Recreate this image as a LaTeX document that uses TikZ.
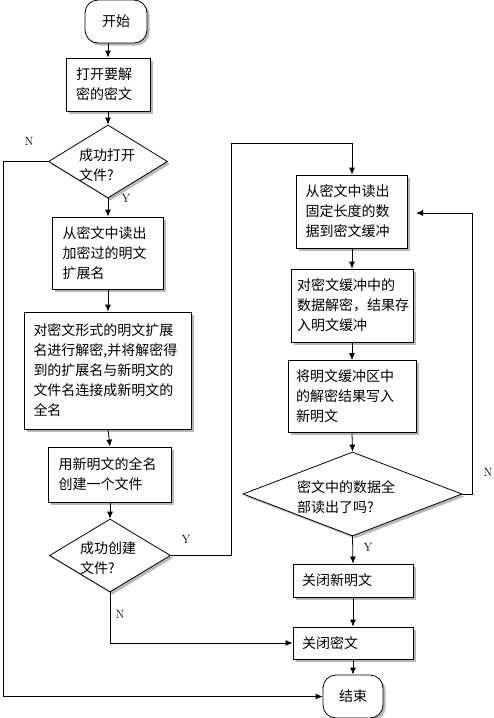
\documentclass[tikz,border=0pt]{standalone}
\usepackage{fontspec}
\newfontfamily\cjk{Noto Sans CJK SC}
\usetikzlibrary{shapes.geometric,shadows,arrows.meta,calc}
\begin{document}
\begin{tikzpicture}[x=1pt,y=-1pt,
  shade/.style={drop shadow={shadow xshift=2.5pt,shadow yshift=-2.5pt,fill=black!40,opacity=0.7}},
  box/.style={draw, fill=white, line width=0.8pt, shade, font=\cjk\fontsize{14}{20}\selectfont, align=left, inner ysep=2pt},
  term/.style={draw, fill=white, line width=0.8pt, shade, rounded corners=13pt, font=\cjk\fontsize{14}{20}\selectfont, minimum width=62pt, minimum height=43pt},
  dia/.style={draw, fill=white, line width=0.8pt, shade, diamond, inner sep=0pt},
  dtext/.style={font=\cjk\fontsize{14}{20}\selectfont, align=left, anchor=west, inner sep=0pt},
  arr/.style={line width=0.8pt, -{Latex[length=7pt,width=6pt]}},
  lbl/.style={font=\fontsize{12}{12}\selectfont, inner sep=0pt}
]
\useasboundingbox (0,0) rectangle (494,718);
\fill[white] (0,0) rectangle (494,718);

% left column
\node[term] (start) at (116,21.5) {开始};
\node[box, minimum width=84pt, minimum height=53pt, text width=64pt, inner xsep=10pt] (b1) at (108,84.5) {打开要解\\密的密文};
\node[dia, minimum width=119pt, minimum height=73pt] (d1) at (108,161.5) {};
\node[dtext] (d1t) at (79,165) {成功打开\\文件?};
\node[box, minimum width=111pt, minimum height=72pt, text width=91pt, inner xsep=10pt] (b2) at (108,253) {从密文中读出\\加密过的明文\\扩展名};
\node[box, minimum width=167pt, minimum height=117pt, text width=149pt, inner xsep=9pt] (b3) at (108,370.5) {对密文形式的明文扩展\\名进行解密,并将解密得\\到的扩展名与新明文的\\文件名连接成新明文的\\全名};
\node[box, minimum width=123pt, minimum height=55pt, text width=103pt, inner xsep=10pt] (b4) at (110,474.5) {用新明文的全名\\创建一个文件};
\node[dia, minimum width=121pt, minimum height=73pt] (d2) at (110,555.5) {};
\node[dtext] (d2t) at (80,558) {成功创建\\文件?};

% right column
\node[box, minimum width=111pt, minimum height=73pt, text width=93pt, inner xsep=9pt] (b5) at (352,211.5) {从密文中读出\\固定长度的数\\据到密文缓冲};
\node[box, minimum width=122pt, minimum height=73pt, text width=110pt, inner xsep=6pt] (b6) at (352,305.5) {对密文缓冲中的\\数据解密，结果存\\入明文缓冲};
\node[box, minimum width=128pt, minimum height=72pt, text width=112pt, inner xsep=8pt] (b7) at (352,396.5) {将明文缓冲区中\\的解密结果写入\\新明文};
\node[dia, minimum width=219pt, minimum height=84pt] (d3) at (352.5,494) {};
\node[dtext] (d3t) at (297,497) {密文中的数据全\\部读出了吗?};
\node[box, minimum width=120pt, minimum height=33pt, text width=102pt, inner xsep=9pt] (b8) at (353,580.5) {关闭新明文};
\node[box, minimum width=120pt, minimum height=32pt, text width=102pt, inner xsep=9pt] (b9) at (353,643) {关闭密文};
\node[term, minimum width=60pt] (end) at (353,696.5) {结束};

% rails
\coordinate (lftrail) at (3,0);
\coordinate (midrail) at (231,143);
\coordinate (rrail) at (472,213);
\coordinate (rtip) at (416,213);

% connectors
\draw[arr] (start.south -| b1.north) -- (b1.north);
\draw[arr] (b1.south) -- (d1.north);
\draw[arr] (d1.south) -- (b2.north);
\draw[arr] (b2.south) -- (b3.north);
\draw[arr] (b3.south) -- (b4.north);
\draw[arr] (b4.south) -- (d2.north);
\draw[arr] (d1.west) -- (d1.west -| lftrail) |- (end.west);
\draw[arr] (d2.east) -| (midrail) -| (b5.north);
\draw[arr] (d2.south) |- (b9.west);
\draw[arr] (b5.south) -- (b6.north);
\draw[arr] (b6.south) -- (b7.north);
\draw[arr] (b7.south) -- (d3.north);
\draw[arr] (d3.south) -- (b8.north);
\draw[arr] (b8.south) -- (b9.north);
\draw[arr] (b9.south) -- (end.north);
\draw[arr] (d3.east) -| (rrail) -- (rtip);

% labels
\node[lbl] (ln1) at (29,141) {N};
\node[lbl] (ly1) at (126,198) {Y};
\node[lbl] (ly2) at (186,539) {Y};
\node[lbl] (ln2) at (120,614) {N};
\node[lbl] (ln3) at (488,472) {N};
\node[lbl] (ly3) at (368,547) {Y};
\end{tikzpicture}
\end{document}
